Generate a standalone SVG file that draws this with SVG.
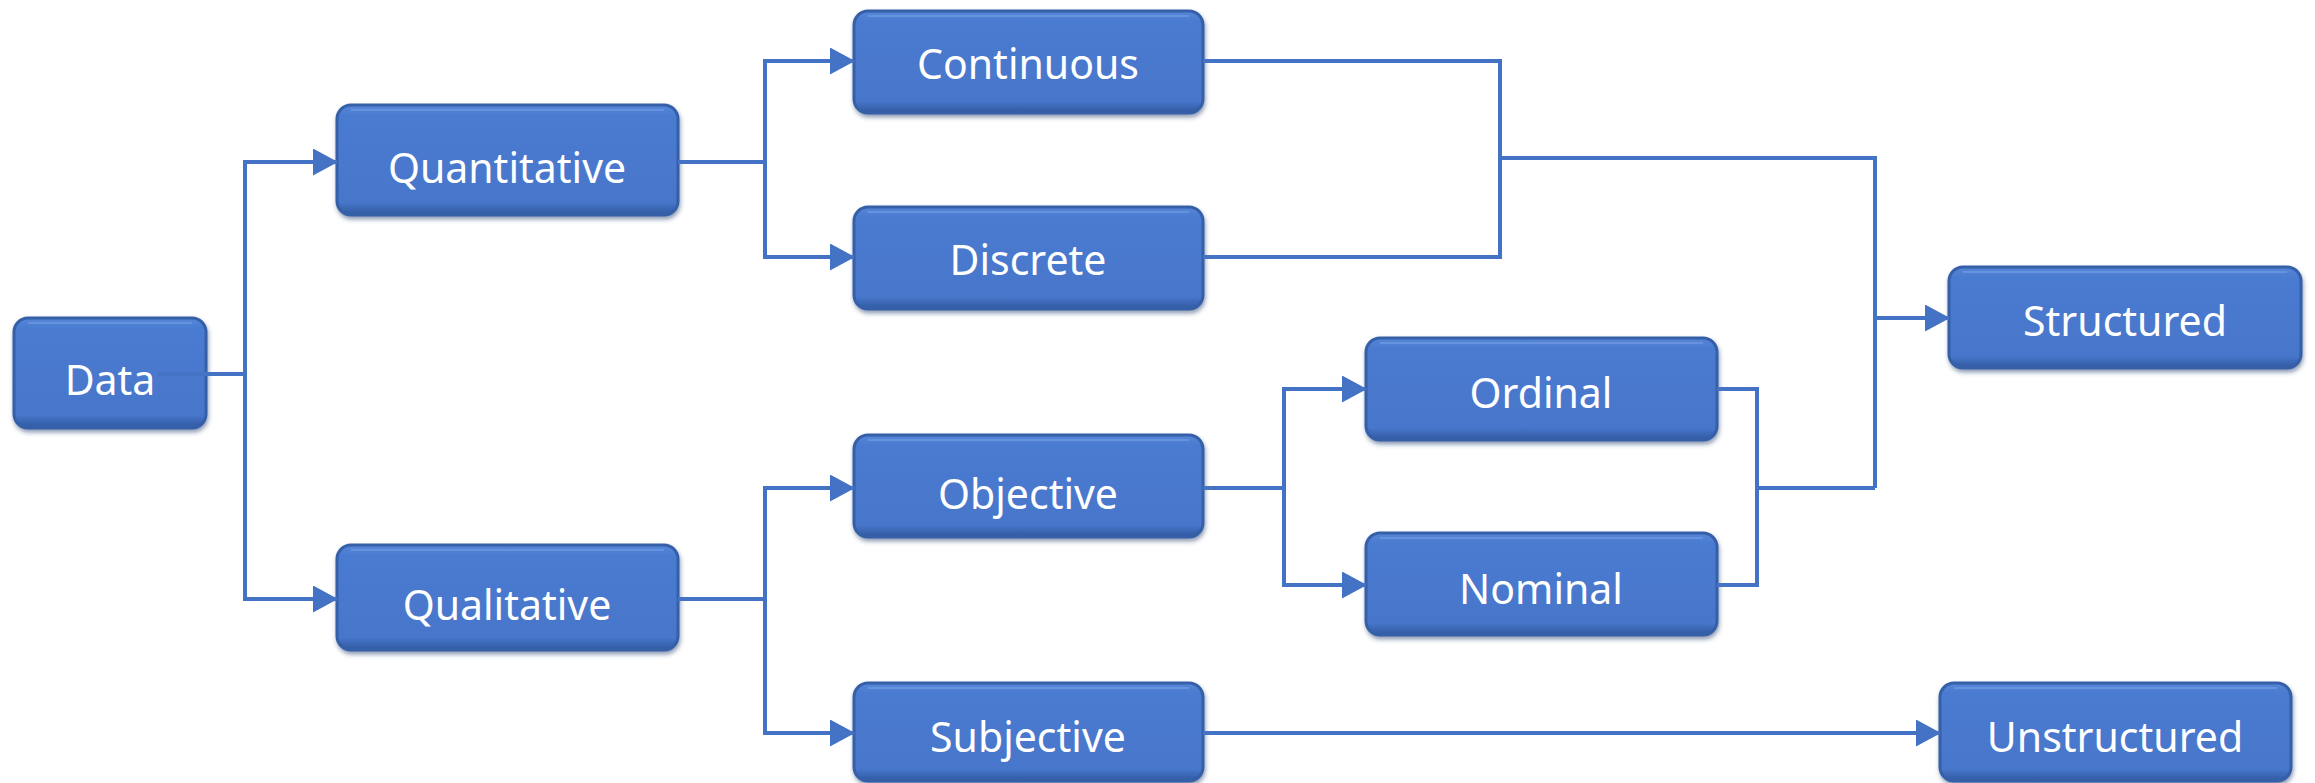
<svg xmlns="http://www.w3.org/2000/svg" width="2315" height="783" viewBox="0 0 2315 783">
<defs>
<linearGradient id="bg" x1="0" y1="0" x2="0" y2="1">
<stop offset="0" stop-color="#5686D7"/>
<stop offset="0.1" stop-color="#4A7BD0"/>
<stop offset="0.88" stop-color="#4776CB"/>
<stop offset="1" stop-color="#30599F"/>
</linearGradient>
<filter id="sh" x="-5%" y="-10%" width="110%" height="125%">
<feDropShadow dx="1" dy="3" stdDeviation="2" flood-color="#1F3A6B" flood-opacity="0.5"/>
</filter>
<marker id="ah" markerUnits="userSpaceOnUse" markerWidth="25" markerHeight="27" refX="24" refY="13.5" orient="auto">
<path d="M0,0 L25,13.5 L0,27 z" fill="#4472C4"/>
</marker>
<style>
.box{fill:url(#bg);stroke:#3660A8;stroke-width:3;filter:url(#sh)}
.hl{fill:none;stroke:#7AA3E6;stroke-width:2;stroke-opacity:0.55}
.lbl{font-family:"Noto Sans","Open Sans",sans-serif;font-size:41px;fill:#FFFFFF;text-anchor:middle}
.c{fill:none;stroke:#4472C4;stroke-width:4}
.a{marker-end:url(#ah)}
</style>
</defs>
<rect width="2315" height="783" fill="#FFFFFF"/>

<g id="node-data"><rect class="box" x="14" y="318" width="192" height="110" rx="14"/><path class="hl" d="M28,323 H192"/><text class="lbl" x="110" y="395">Data</text></g>
<g id="node-quantitative"><rect class="box" x="337" y="105" width="341" height="110" rx="14"/><path class="hl" d="M351,110 H664"/><text class="lbl" x="507" y="183">Quantitative</text></g>
<g id="node-qualitative"><rect class="box" x="337" y="545" width="341" height="105" rx="14"/><path class="hl" d="M351,550 H664"/><text class="lbl" x="507" y="620">Qualitative</text></g>
<g id="node-continuous"><rect class="box" x="854" y="11" width="349" height="102" rx="14"/><path class="hl" d="M868,16 H1189"/><text class="lbl" x="1028" y="79">Continuous</text></g>
<g id="node-discrete"><rect class="box" x="854" y="207" width="349" height="102" rx="14"/><path class="hl" d="M868,212 H1189"/><text class="lbl" x="1028" y="275">Discrete</text></g>
<g id="node-objective"><rect class="box" x="854" y="435" width="349" height="102" rx="14"/><path class="hl" d="M868,440 H1189"/><text class="lbl" x="1028" y="509">Objective</text></g>
<g id="node-subjective"><rect class="box" x="854" y="683" width="349" height="98" rx="14"/><path class="hl" d="M868,688 H1189"/><text class="lbl" x="1028" y="752">Subjective</text></g>
<g id="node-ordinal"><rect class="box" x="1366" y="338" width="351" height="102" rx="14"/><path class="hl" d="M1380,343 H1703"/><text class="lbl" x="1541" y="408">Ordinal</text></g>
<g id="node-nominal"><rect class="box" x="1366" y="533" width="351" height="102" rx="14"/><path class="hl" d="M1380,538 H1703"/><text class="lbl" x="1541" y="604">Nominal</text></g>
<g id="node-structured"><rect class="box" x="1949" y="267" width="352" height="101" rx="14"/><path class="hl" d="M1963,272 H2287"/><text class="lbl" x="2125" y="336">Structured</text></g>
<g id="node-unstructured"><rect class="box" x="1940" y="683" width="351" height="98" rx="14"/><path class="hl" d="M1954,688 H2277"/><text class="lbl" x="2115" y="752">Unstructured</text></g>

<g id="connectors">
<path class="c" d="M158,374 H245"/>
<path class="c a" d="M245,374 V162 H337"/>
<path class="c a" d="M245,374 V599 H337"/>
<path class="c" d="M678,162 H765"/>
<path class="c a" d="M765,162 V61 H854"/>
<path class="c a" d="M765,162 V257 H854"/>
<path class="c" d="M678,599 H765"/>
<path class="c a" d="M765,599 V488 H854"/>
<path class="c a" d="M765,599 V733 H854"/>
<path class="c" d="M1203,61 H1500 V257 H1203"/>
<path class="c" d="M1500,158 H1875 V488"/>
<path class="c a" d="M1875,318 H1949"/>
<path class="c" d="M1203,488 H1284"/>
<path class="c a" d="M1284,488 V389 H1366"/>
<path class="c a" d="M1284,488 V585 H1366"/>
<path class="c" d="M1717,389 H1757 V585 H1717"/>
<path class="c" d="M1757,488 H1875"/>
<path class="c a" d="M1203,733 H1940"/>
</g>
</svg>
